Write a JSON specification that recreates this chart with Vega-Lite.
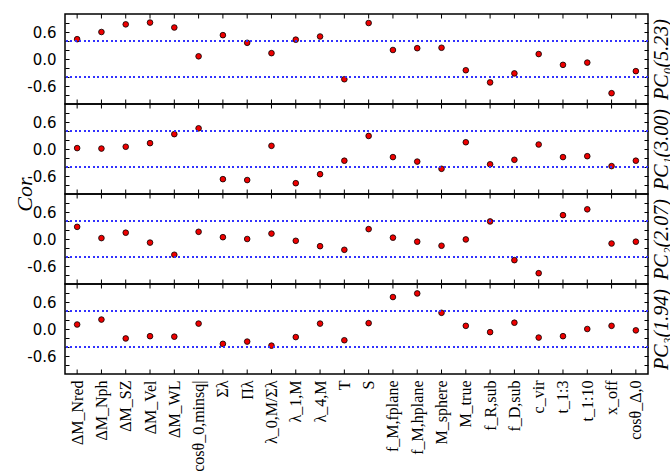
{
  "$schema": "https://vega.github.io/schema/vega-lite/v6.json",
  "padding": {"left": 12, "top": 12, "right": 0, "bottom": 0},
  "bounds": "flush",
  "spacing": 0,
  "data": {"values": [
    {"p":0,"v":"ΔM_Nred","c":0.44},{"p":0,"v":"ΔM_Nph","c":0.60},{"p":0,"v":"ΔM_SZ","c":0.77},{"p":0,"v":"ΔM_Vel","c":0.81},{"p":0,"v":"ΔM_WL","c":0.70},{"p":0,"v":"cosθ_0,minsq|","c":0.06},{"p":0,"v":"Σλ","c":0.53},{"p":0,"v":"Πλ","c":0.36},{"p":0,"v":"λ_0,M/Σλ","c":0.13},{"p":0,"v":"λ_1,M","c":0.43},{"p":0,"v":"λ_4,M","c":0.50},{"p":0,"v":"T","c":-0.45},{"p":0,"v":"S","c":0.80},{"p":0,"v":"f_M,fplane","c":0.20},{"p":0,"v":"f_M,hplane","c":0.24},{"p":0,"v":"M_sphere","c":0.25},{"p":0,"v":"M_true","c":-0.25},{"p":0,"v":"f_R,sub","c":-0.52},{"p":0,"v":"f_D,sub","c":-0.32},{"p":0,"v":"c_vir","c":0.11},{"p":0,"v":"t_1:3","c":-0.13},{"p":0,"v":"t_1:10","c":-0.08},{"p":0,"v":"x_off","c":-0.76},{"p":0,"v":"cosθ_Δ,0","c":-0.27},
    {"p":1,"v":"ΔM_Nred","c":0.02},{"p":1,"v":"ΔM_Nph","c":0.01},{"p":1,"v":"ΔM_SZ","c":0.05},{"p":1,"v":"ΔM_Vel","c":0.13},{"p":1,"v":"ΔM_WL","c":0.33},{"p":1,"v":"cosθ_0,minsq|","c":0.46},{"p":1,"v":"Σλ","c":-0.67},{"p":1,"v":"Πλ","c":-0.69},{"p":1,"v":"λ_0,M/Σλ","c":0.07},{"p":1,"v":"λ_1,M","c":-0.76},{"p":1,"v":"λ_4,M","c":-0.56},{"p":1,"v":"T","c":-0.26},{"p":1,"v":"S","c":0.29},{"p":1,"v":"f_M,fplane","c":-0.18},{"p":1,"v":"f_M,hplane","c":-0.28},{"p":1,"v":"M_sphere","c":-0.44},{"p":1,"v":"M_true","c":0.15},{"p":1,"v":"f_R,sub","c":-0.34},{"p":1,"v":"f_D,sub","c":-0.24},{"p":1,"v":"c_vir","c":0.10},{"p":1,"v":"t_1:3","c":-0.18},{"p":1,"v":"t_1:10","c":-0.16},{"p":1,"v":"x_off","c":-0.38},{"p":1,"v":"cosθ_Δ,0","c":-0.26},
    {"p":2,"v":"ΔM_Nred","c":0.27},{"p":2,"v":"ΔM_Nph","c":0.02},{"p":2,"v":"ΔM_SZ","c":0.14},{"p":2,"v":"ΔM_Vel","c":-0.08},{"p":2,"v":"ΔM_WL","c":-0.35},{"p":2,"v":"cosθ_0,minsq|","c":0.16},{"p":2,"v":"Σλ","c":0.04},{"p":2,"v":"Πλ","c":0.0},{"p":2,"v":"λ_0,M/Σλ","c":0.12},{"p":2,"v":"λ_1,M","c":-0.04},{"p":2,"v":"λ_4,M","c":-0.16},{"p":2,"v":"T","c":-0.24},{"p":2,"v":"S","c":0.22},{"p":2,"v":"f_M,fplane","c":0.03},{"p":2,"v":"f_M,hplane","c":-0.06},{"p":2,"v":"M_sphere","c":-0.15},{"p":2,"v":"M_true","c":-0.01},{"p":2,"v":"f_R,sub","c":0.39},{"p":2,"v":"f_D,sub","c":-0.47},{"p":2,"v":"c_vir","c":-0.76},{"p":2,"v":"t_1:3","c":0.53},{"p":2,"v":"t_1:10","c":0.66},{"p":2,"v":"x_off","c":-0.10},{"p":2,"v":"cosθ_Δ,0","c":-0.06},
    {"p":3,"v":"ΔM_Nred","c":0.10},{"p":3,"v":"ΔM_Nph","c":0.21},{"p":3,"v":"ΔM_SZ","c":-0.21},{"p":3,"v":"ΔM_Vel","c":-0.16},{"p":3,"v":"ΔM_WL","c":-0.17},{"p":3,"v":"cosθ_0,minsq|","c":0.12},{"p":3,"v":"Σλ","c":-0.33},{"p":3,"v":"Πλ","c":-0.28},{"p":3,"v":"λ_0,M/Σλ","c":-0.37},{"p":3,"v":"λ_1,M","c":-0.18},{"p":3,"v":"λ_4,M","c":0.12},{"p":3,"v":"T","c":-0.25},{"p":3,"v":"S","c":0.13},{"p":3,"v":"f_M,fplane","c":0.71},{"p":3,"v":"f_M,hplane","c":0.79},{"p":3,"v":"M_sphere","c":0.36},{"p":3,"v":"M_true","c":0.07},{"p":3,"v":"f_R,sub","c":-0.07},{"p":3,"v":"f_D,sub","c":0.14},{"p":3,"v":"c_vir","c":-0.19},{"p":3,"v":"t_1:3","c":-0.16},{"p":3,"v":"t_1:10","c":0.0},{"p":3,"v":"x_off","c":0.07},{"p":3,"v":"cosθ_Δ,0","c":-0.03}
  ]},
  "vconcat": [
    {
      "width": 583, "height": 90,
      "transform": [{"filter": "datum.p == 0"}],
      "encoding": {"x": {"field": "v", "type": "nominal", "sort": null, "scale": {"type": "point", "padding": 0.5}, "axis": null}},
      "layer": [
        {"mark": {"type": "point", "filled": true, "fill": "#ee0000", "stroke": "black", "strokeWidth": 0.8, "size": 32, "opacity": 1},
         "encoding": {"y": {"field": "c", "type": "quantitative", "scale": {"domain": [-1, 1], "nice": false},
           "axis": {"title": null, "orient": "left", "values": [-0.8, -0.6, -0.4, -0.2, 0, 0.2, 0.4, 0.6, 0.8], "labelExpr": "datum.value == 0.6 ? '0.6' : datum.value == 0 ? '0.0' : datum.value == -0.6 ? '-0.6' : ''", "offset": -4, "tickSize": 4, "tickColor": "black", "domain": false, "grid": false, "labelFont": "DejaVu Sans", "labelFontSize": 15, "labelColor": "black", "labelPadding": 9, "minExtent": 0}}}},
        {"mark": {"type": "point", "opacity": 0},
         "encoding": {"y": {"field": "c", "type": "quantitative",
           "axis": {"title": "PC₀(5.23)", "orient": "right", "values": [-0.8, -0.6, -0.4, -0.2, 0, 0.2, 0.4, 0.6, 0.8], "labels": false, "offset": -4, "tickSize": 4, "tickColor": "black", "domain": false, "grid": false, "minExtent": 0, "titleAngle": -90, "titleBaseline": "top", "titlePadding": 3, "titleFont": "Liberation Serif", "titleFontStyle": "italic", "titleFontWeight": "normal", "titleFontSize": 20, "titleColor": "black"}}}},
        {"mark": {"type": "rule", "color": "#3333ff", "strokeDash": [1.5, 3], "strokeWidth": 1.2}, "encoding": {"x": null, "y": {"datum": 0.4, "type": "quantitative", "axis": null}}},
        {"mark": {"type": "rule", "color": "#3333ff", "strokeDash": [1.5, 3], "strokeWidth": 1.2}, "encoding": {"x": null, "y": {"datum": -0.4, "type": "quantitative", "axis": null}}},
        {"mark": {"type": "rule", "color": "black", "strokeWidth": 1}, "encoding": {"y": {"datum": 1, "type": "quantitative", "axis": null}, "y2": {"datum": 0.9}}},
        {"mark": {"type": "rule", "color": "black", "strokeWidth": 1}, "encoding": {"y": {"datum": -1, "type": "quantitative", "axis": null}, "y2": {"datum": -0.9}}}
      ],
      "resolve": {"axis": {"y": "independent"}}
    },
    {
      "width": 583, "height": 90,
      "transform": [{"filter": "datum.p == 1"}],
      "encoding": {"x": {"field": "v", "type": "nominal", "sort": null, "scale": {"type": "point", "padding": 0.5}, "axis": null}},
      "layer": [
        {"mark": {"type": "point", "filled": true, "fill": "#ee0000", "stroke": "black", "strokeWidth": 0.8, "size": 32, "opacity": 1},
         "encoding": {"y": {"field": "c", "type": "quantitative", "scale": {"domain": [-1, 1], "nice": false},
           "axis": {"title": "Cor", "titleY": 90, "titleAngle": -90, "titleAlign": "center", "titleBaseline": "bottom", "titlePadding": -10, "titleFont": "Liberation Serif", "titleFontStyle": "italic", "titleFontWeight": "normal", "titleFontSize": 22, "titleColor": "black", "orient": "left", "values": [-0.8, -0.6, -0.4, -0.2, 0, 0.2, 0.4, 0.6, 0.8], "labelExpr": "datum.value == 0.6 ? '0.6' : datum.value == 0 ? '0.0' : datum.value == -0.6 ? '-0.6' : ''", "offset": -4, "tickSize": 4, "tickColor": "black", "domain": false, "grid": false, "labelFont": "DejaVu Sans", "labelFontSize": 15, "labelColor": "black", "labelPadding": 9, "minExtent": 0}}}},
        {"mark": {"type": "point", "opacity": 0},
         "encoding": {"y": {"field": "c", "type": "quantitative",
           "axis": {"title": "PC₁(3.00)", "orient": "right", "values": [-0.8, -0.6, -0.4, -0.2, 0, 0.2, 0.4, 0.6, 0.8], "labels": false, "offset": -4, "tickSize": 4, "tickColor": "black", "domain": false, "grid": false, "minExtent": 0, "titleAngle": -90, "titleBaseline": "top", "titlePadding": 3, "titleFont": "Liberation Serif", "titleFontStyle": "italic", "titleFontWeight": "normal", "titleFontSize": 20, "titleColor": "black"}}}},
        {"mark": {"type": "rule", "color": "#3333ff", "strokeDash": [1.5, 3], "strokeWidth": 1.2}, "encoding": {"x": null, "y": {"datum": 0.4, "type": "quantitative", "axis": null}}},
        {"mark": {"type": "rule", "color": "#3333ff", "strokeDash": [1.5, 3], "strokeWidth": 1.2}, "encoding": {"x": null, "y": {"datum": -0.4, "type": "quantitative", "axis": null}}},
        {"mark": {"type": "rule", "color": "black", "strokeWidth": 1}, "encoding": {"y": {"datum": 1, "type": "quantitative", "axis": null}, "y2": {"datum": 0.9}}},
        {"mark": {"type": "rule", "color": "black", "strokeWidth": 1}, "encoding": {"y": {"datum": -1, "type": "quantitative", "axis": null}, "y2": {"datum": -0.9}}}
      ],
      "resolve": {"axis": {"y": "independent"}}
    },
    {
      "width": 583, "height": 90,
      "transform": [{"filter": "datum.p == 2"}],
      "encoding": {"x": {"field": "v", "type": "nominal", "sort": null, "scale": {"type": "point", "padding": 0.5}, "axis": null}},
      "layer": [
        {"mark": {"type": "point", "filled": true, "fill": "#ee0000", "stroke": "black", "strokeWidth": 0.8, "size": 32, "opacity": 1},
         "encoding": {"y": {"field": "c", "type": "quantitative", "scale": {"domain": [-1, 1], "nice": false},
           "axis": {"title": null, "orient": "left", "values": [-0.8, -0.6, -0.4, -0.2, 0, 0.2, 0.4, 0.6, 0.8], "labelExpr": "datum.value == 0.6 ? '0.6' : datum.value == 0 ? '0.0' : datum.value == -0.6 ? '-0.6' : ''", "offset": -4, "tickSize": 4, "tickColor": "black", "domain": false, "grid": false, "labelFont": "DejaVu Sans", "labelFontSize": 15, "labelColor": "black", "labelPadding": 9, "minExtent": 0}}}},
        {"mark": {"type": "point", "opacity": 0},
         "encoding": {"y": {"field": "c", "type": "quantitative",
           "axis": {"title": "PC₂(2.07)", "orient": "right", "values": [-0.8, -0.6, -0.4, -0.2, 0, 0.2, 0.4, 0.6, 0.8], "labels": false, "offset": -4, "tickSize": 4, "tickColor": "black", "domain": false, "grid": false, "minExtent": 0, "titleAngle": -90, "titleBaseline": "top", "titlePadding": 3, "titleFont": "Liberation Serif", "titleFontStyle": "italic", "titleFontWeight": "normal", "titleFontSize": 20, "titleColor": "black"}}}},
        {"mark": {"type": "rule", "color": "#3333ff", "strokeDash": [1.5, 3], "strokeWidth": 1.2}, "encoding": {"x": null, "y": {"datum": 0.4, "type": "quantitative", "axis": null}}},
        {"mark": {"type": "rule", "color": "#3333ff", "strokeDash": [1.5, 3], "strokeWidth": 1.2}, "encoding": {"x": null, "y": {"datum": -0.4, "type": "quantitative", "axis": null}}},
        {"mark": {"type": "rule", "color": "black", "strokeWidth": 1}, "encoding": {"y": {"datum": 1, "type": "quantitative", "axis": null}, "y2": {"datum": 0.9}}},
        {"mark": {"type": "rule", "color": "black", "strokeWidth": 1}, "encoding": {"y": {"datum": -1, "type": "quantitative", "axis": null}, "y2": {"datum": -0.9}}}
      ],
      "resolve": {"axis": {"y": "independent"}}
    },
    {
      "width": 583, "height": 90,
      "transform": [{"filter": "datum.p == 3"}],
      "encoding": {"x": {"field": "v", "type": "nominal", "sort": null, "scale": {"type": "point", "padding": 0.5},
        "axis": {"title": null, "labelAngle": -90, "ticks": false, "domain": false, "labelFont": "Liberation Serif", "labelFontSize": 16, "labelColor": "black", "labelPadding": 6}}},
      "layer": [
        {"mark": {"type": "point", "filled": true, "fill": "#ee0000", "stroke": "black", "strokeWidth": 0.8, "size": 32, "opacity": 1},
         "encoding": {"y": {"field": "c", "type": "quantitative", "scale": {"domain": [-1, 1], "nice": false},
           "axis": {"title": null, "orient": "left", "values": [-0.8, -0.6, -0.4, -0.2, 0, 0.2, 0.4, 0.6, 0.8], "labelExpr": "datum.value == 0.6 ? '0.6' : datum.value == 0 ? '0.0' : datum.value == -0.6 ? '-0.6' : ''", "offset": -4, "tickSize": 4, "tickColor": "black", "domain": false, "grid": false, "labelFont": "DejaVu Sans", "labelFontSize": 15, "labelColor": "black", "labelPadding": 9, "minExtent": 0}}}},
        {"mark": {"type": "point", "opacity": 0},
         "encoding": {"y": {"field": "c", "type": "quantitative",
           "axis": {"title": "PC₃(1.94)", "orient": "right", "values": [-0.8, -0.6, -0.4, -0.2, 0, 0.2, 0.4, 0.6, 0.8], "labels": false, "offset": -4, "tickSize": 4, "tickColor": "black", "domain": false, "grid": false, "minExtent": 0, "titleAngle": -90, "titleBaseline": "top", "titlePadding": 3, "titleFont": "Liberation Serif", "titleFontStyle": "italic", "titleFontWeight": "normal", "titleFontSize": 20, "titleColor": "black"}}}},
        {"mark": {"type": "rule", "color": "#3333ff", "strokeDash": [1.5, 3], "strokeWidth": 1.2}, "encoding": {"x": null, "y": {"datum": 0.4, "type": "quantitative", "axis": null}}},
        {"mark": {"type": "rule", "color": "#3333ff", "strokeDash": [1.5, 3], "strokeWidth": 1.2}, "encoding": {"x": null, "y": {"datum": -0.4, "type": "quantitative", "axis": null}}},
        {"mark": {"type": "rule", "color": "black", "strokeWidth": 1}, "encoding": {"y": {"datum": 1, "type": "quantitative", "axis": null}, "y2": {"datum": 0.9}}},
        {"mark": {"type": "rule", "color": "black", "strokeWidth": 1}, "encoding": {"y": {"datum": -1, "type": "quantitative", "axis": null}, "y2": {"datum": -0.9}}}
      ],
      "resolve": {"axis": {"y": "independent"}}
    }
  ],
  "config": {
    "view": {"stroke": "black", "strokeWidth": 1.5},
    "background": "white"
  }
}
